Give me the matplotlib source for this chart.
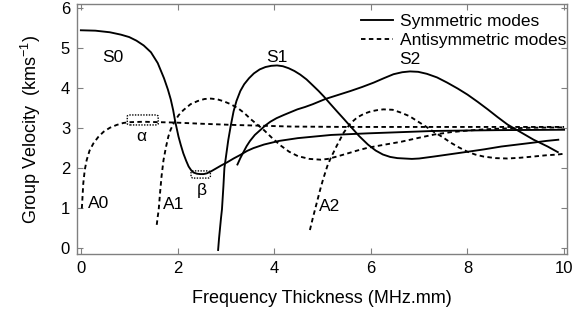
import matplotlib
matplotlib.use("Agg")
import matplotlib.pyplot as plt
from matplotlib.patches import FancyBboxPatch

plt.rcParams['font.family'] = ['Liberation Sans', 'DejaVu Sans']
plt.rcParams['mathtext.fontset'] = 'custom'
plt.rcParams['mathtext.rm'] = 'Liberation Sans'
plt.rcParams['mathtext.it'] = 'Liberation Sans'

# symmetric modes
s0_x = [0.0, 0.3, 0.6, 0.83, 1.0, 1.15, 1.30, 1.45, 1.59, 1.72, 1.80, 1.86, 1.91, 1.95, 2.02,
        2.07, 2.12, 2.18, 2.23, 2.28, 2.33, 2.40, 2.47, 2.54, 2.61, 2.71, 2.81, 2.91, 3.02, 3.16,
        3.30, 3.44, 3.57, 3.79, 4.1, 4.49, 5.18, 5.94, 7.31, 8.6, 10.0]
s0_y = [5.45, 5.44, 5.40, 5.34, 5.28, 5.19, 5.07, 4.90, 4.63, 4.25, 3.97, 3.72, 3.45, 3.18, 2.79,
        2.57, 2.37, 2.18, 2.04, 1.95, 1.89, 1.86, 1.85, 1.85, 1.87, 1.93, 2.00, 2.07, 2.14, 2.24,
        2.33, 2.43, 2.50, 2.59, 2.68, 2.75, 2.83, 2.87, 2.93, 2.95, 2.96]

s1_x = [2.84, 2.86, 2.88, 2.90, 2.92, 2.95, 2.97, 3.01, 3.05, 3.10, 3.16, 3.22, 3.30, 3.38, 3.48,
        3.58, 3.70, 3.82, 3.94, 4.06, 4.18, 4.30, 4.42, 4.54, 4.67, 4.80, 4.92, 5.03, 5.16, 5.30,
        5.45, 5.59, 5.76, 5.94, 6.10, 6.25, 6.40, 6.55, 6.70, 6.85, 7.0, 7.31, 7.66, 8.01, 8.35,
        8.70, 9.04, 9.38, 9.63, 9.88]
s1_y = [-0.05, 0.25, 0.5, 0.75, 0.97, 1.55, 2.0, 2.35, 2.70, 3.05, 3.42, 3.68, 3.93, 4.10, 4.25,
        4.37, 4.47, 4.53, 4.56, 4.57, 4.55, 4.50, 4.43, 4.34, 4.22, 4.07, 3.93, 3.79, 3.61, 3.42,
        3.22, 3.03, 2.80, 2.59, 2.44, 2.34, 2.28, 2.25, 2.24, 2.23, 2.24, 2.29, 2.35, 2.41, 2.47,
        2.54, 2.59, 2.64, 2.68, 2.71]

s2_x = [3.24, 3.30, 3.36, 3.43, 3.50, 3.60, 3.72, 3.82, 3.92, 4.05, 4.20, 4.34, 4.48, 4.64, 4.80,
        5.06, 5.32, 5.58, 5.82, 6.06, 6.27, 6.47, 6.65, 6.81, 6.98, 7.16, 7.37, 7.58, 7.80, 8.0,
        8.21, 8.42, 8.62, 8.83, 9.10, 9.37, 9.66, 9.87]
s2_y = [2.09, 2.25, 2.39, 2.55, 2.68, 2.83, 2.96, 3.07, 3.16, 3.25, 3.33, 3.40, 3.47, 3.53, 3.60,
        3.73, 3.83, 3.93, 4.03, 4.14, 4.25, 4.35, 4.40, 4.42, 4.41, 4.36, 4.27, 4.14, 3.99, 3.84,
        3.66, 3.47, 3.28, 3.09, 2.90, 2.71, 2.54, 2.40]

# antisymmetric modes
a0_x = [0.02, 0.03, 0.05, 0.08, 0.12, 0.18, 0.26, 0.36, 0.47, 0.60, 0.74, 0.88, 1.02, 1.3, 1.6,
        1.95, 2.5, 3.17, 4.35, 5.5, 7.0, 8.5, 10.0]
a0_y = [0.99, 1.2, 1.62, 1.95, 2.20, 2.44, 2.62, 2.78, 2.91, 3.01, 3.08, 3.13, 3.15, 3.16, 3.15,
        3.14, 3.11, 3.08, 3.04, 3.03, 3.03, 3.03, 3.03]

a1_x = [1.57, 1.59, 1.61, 1.64, 1.67, 1.71, 1.76, 1.81, 1.86, 1.92, 2.02, 2.12, 2.27, 2.42, 2.56,
        2.69, 2.83, 2.96, 3.10, 3.25, 3.38, 3.52, 3.65, 3.79, 3.96, 4.14, 4.31, 4.49, 4.73, 4.97,
        5.11, 5.30, 5.50, 5.72, 5.94, 6.3, 6.63, 7.0, 7.31, 7.66, 8.01, 8.35, 8.70, 9.3, 10.0]
a1_y = [0.58, 0.78, 0.95, 1.40, 1.80, 2.20, 2.52, 2.79, 2.97, 3.12, 3.32, 3.45, 3.60, 3.68, 3.73,
        3.74, 3.72, 3.67, 3.60, 3.50, 3.38, 3.22, 3.09, 2.95, 2.75, 2.56, 2.41, 2.30, 2.23, 2.21,
        2.23, 2.29, 2.36, 2.44, 2.51, 2.59, 2.66, 2.76, 2.84, 2.90, 2.94, 2.97, 2.99, 3.01, 3.02]

a2_x = [4.74, 4.80, 4.86, 4.95, 5.01, 5.10, 5.17, 5.30, 5.44, 5.58, 5.72, 5.86, 6.0, 6.13, 6.26,
        6.45, 6.62, 6.80, 6.97, 7.14, 7.30, 7.48, 7.65, 7.82, 8.0, 8.16, 8.33, 8.58, 8.83, 9.1,
        9.37, 9.62, 9.87, 10.0]
a2_y = [0.45, 0.75, 1.03, 1.45, 1.71, 2.05, 2.25, 2.57, 2.89, 3.12, 3.27, 3.36, 3.42, 3.45, 3.47,
        3.46, 3.39, 3.30, 3.17, 3.04, 2.91, 2.78, 2.64, 2.52, 2.41, 2.34, 2.29, 2.25, 2.24, 2.26,
        2.29, 2.32, 2.34, 2.36]

# mode labels: text, x, y
mode_labels = [("S0", 0.67, 4.78), ("S1", 4.06, 4.78), ("S2", 6.81, 4.73),
               ("A0", 0.36, 1.11), ("A1", 1.91, 1.08), ("A2", 5.14, 1.03),
               ("α", 1.26, 2.78), ("β", 2.51, 1.45)]
# dotted marker boxes: x0, y0, x1, y1
alpha_box = [0.96, 3.08, 1.60, 3.33]
beta_box = [2.28, 1.75, 2.68, 1.93]

fig = plt.figure(figsize=(5.73, 3.14), dpi=100)
ax = fig.add_axes([0.1344, 0.1911, 0.8551, 0.7952])

lw = 1.35
dash = (2.4, 1.8)
ax.plot(s0_x, s0_y, color='black', lw=lw, label='Symmetric modes')
ax.plot(s1_x, s1_y, color='black', lw=lw)
ax.plot(s2_x, s2_y, color='black', lw=lw)
ax.plot(a0_x, a0_y, color='black', lw=lw, dashes=dash, label='Antisymmetric modes')
ax.plot(a1_x, a1_y, color='black', lw=lw, dashes=dash)
ax.plot(a2_x, a2_y, color='black', lw=lw, dashes=dash)

for box in (alpha_box, beta_box):
    ax.add_patch(FancyBboxPatch((box[0], box[1]), box[2] - box[0], box[3] - box[1],
                                boxstyle='round,pad=0,rounding_size=0.06',
                                fill=False, ec='black', lw=1.0, ls=(0, (1, 1)),
                                mutation_aspect=0.6))

for txt, x, y in mode_labels:
    ax.text(x, y, txt, fontsize=12.5, ha='center', va='center')

ax.set_xlim(-0.08, 10.06)
ax.set_ylim(-0.15, 6.1)
ax.set_xticks([0, 2, 4, 6, 8, 10])
ax.set_yticks([0, 1, 2, 3, 4, 5, 6])
ax.tick_params(direction='in', top=True, right=True, length=4, color='#808080',
               labelsize=12, pad=5)
for sp in ax.spines.values():
    sp.set_color('#808080')
    sp.set_linewidth(1.0)

ax.set_xlabel('Frequency Thickness (MHz.mm)', fontsize=13, labelpad=10)
ax.set_ylabel('Group Velocity  (kms$^{-1}$)', fontsize=13, labelpad=13)

ax.legend(loc='upper right', bbox_to_anchor=(1.018, 1.0), frameon=False, fontsize=12.5,
          handlelength=1.85, handletextpad=0.4, labelspacing=0.22, borderaxespad=0.45,
          borderpad=0.1)

fig.savefig('out.png', dpi=100)
